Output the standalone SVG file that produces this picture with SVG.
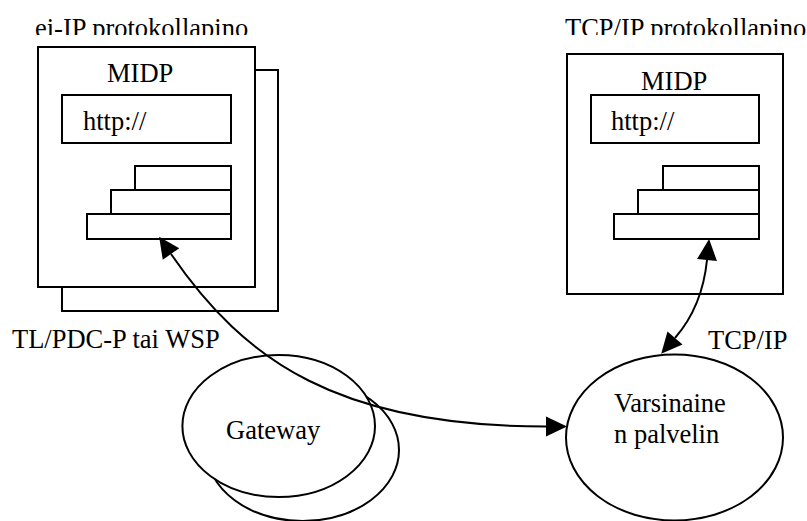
<svg xmlns="http://www.w3.org/2000/svg" width="807" height="521" viewBox="0 0 807 521">
  <style>
    .box { fill: #ffffff; stroke: #000000; stroke-width: 2; }
    .lbl { font-family: "Liberation Serif", "Times New Roman", serif; font-size: 26.5px; fill: #000000; }
    .conn { fill: none; stroke: #000000; stroke-width: 2; }
  </style>
  <defs>
    <marker id="arrow" markerUnits="userSpaceOnUse" markerWidth="22" markerHeight="20" refX="0" refY="10" orient="auto-start-reverse" overflow="visible">
      <path d="M0,0 L21,10 L0,20 z" fill="#000000"/>
    </marker>
    <clipPath id="headClip">
      <rect x="0" y="0" width="807" height="35"/>
    </clipPath>
  </defs>

  <!-- stack titles (cut off at the frame top) -->
  <g clip-path="url(#headClip)">
    <text class="lbl" x="35" y="36.5">ei-IP protokollapino</text>
    <text class="lbl" x="565" y="36.5">TCP/IP protokollapino</text>
  </g>

  <!-- non-IP device stack -->
  <g id="node-eiip">
    <rect class="box" x="62" y="70" width="216" height="241"/>
    <rect class="box" x="38" y="47" width="217" height="240"/>
    <text class="lbl" x="107" y="82">MIDP</text>
    <rect class="box" x="62" y="95" width="169" height="48"/>
    <text class="lbl" x="83" y="130">http://</text>
    <rect class="box" x="135" y="166" width="96" height="24"/>
    <rect class="box" x="111" y="190" width="120" height="24"/>
    <rect class="box" x="87" y="214" width="144" height="25"/>
  </g>

  <!-- TCP/IP device stack -->
  <g id="node-tcpip">
    <rect class="box" x="567" y="54" width="216" height="240"/>
    <text class="lbl" x="641" y="90">MIDP</text>
    <rect class="box" x="591" y="95" width="168" height="48"/>
    <text class="lbl" x="611" y="130">http://</text>
    <rect class="box" x="663" y="166" width="96" height="24"/>
    <rect class="box" x="638" y="190" width="121" height="24"/>
    <rect class="box" x="614" y="214" width="145" height="25"/>
  </g>

  <!-- gateway (two stacked ellipses) -->
  <g id="node-gateway">
    <ellipse class="box" cx="302.7" cy="450" rx="96.3" ry="71"/>
    <ellipse class="box" cx="278.7" cy="426" rx="96.3" ry="71"/>
    <text class="lbl" x="226" y="439">Gateway</text>
  </g>

  <!-- origin server -->
  <g id="node-server">
    <ellipse class="box" cx="674.5" cy="437.5" rx="108.5" ry="83"/>
    <text class="lbl" x="614" y="412">Varsinaine</text>
    <text class="lbl" x="614" y="443">n palvelin</text>
  </g>

  <!-- link labels -->
  <text class="lbl" x="12" y="348">TL/PDC-P tai WSP</text>
  <text class="lbl" x="708" y="349">TCP/IP</text>

  <!-- connectors -->
  <g id="connectors">
    <path class="conn" d="M171,254 C245,362 340,426.5 546,426.5" marker-start="url(#arrow)" marker-end="url(#arrow)"/>
    <path class="conn" d="M707,260 C704,290 695,315 675,338" marker-start="url(#arrow)" marker-end="url(#arrow)"/>
  </g>
</svg>
